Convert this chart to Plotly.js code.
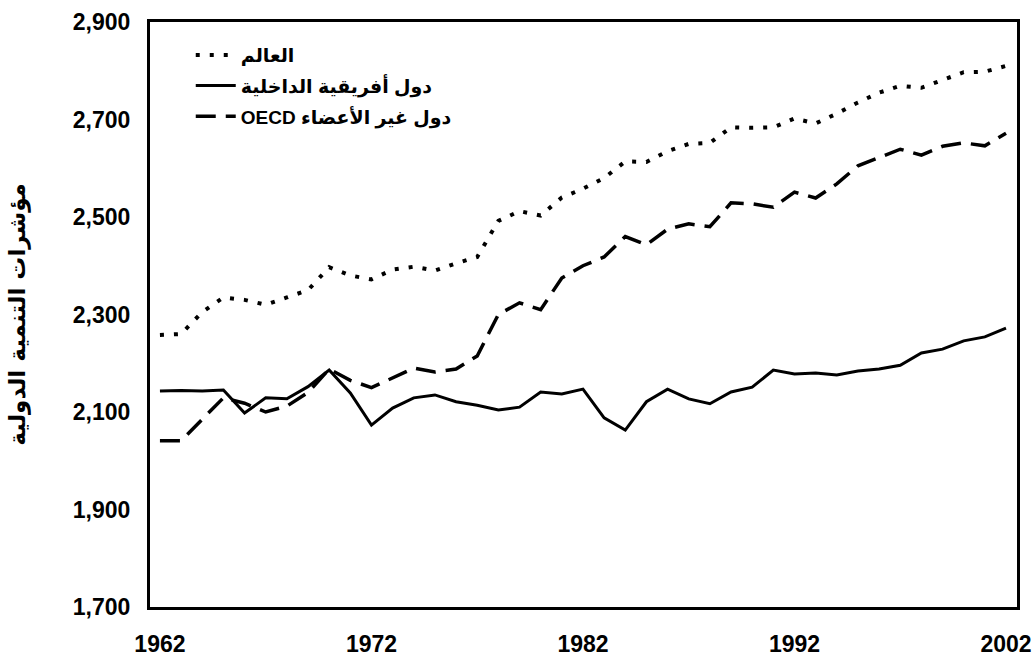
<!DOCTYPE html>
<html>
<head>
<meta charset="utf-8">
<script src="https://cdn.plot.ly/plotly-3.0.1.min.js"></script>
<style>html,body{margin:0;padding:0;background:#fff;}#chart{width:1036px;height:656px;}</style>
</head>
<body>
<div id="chart"></div>
<script>
const years = [1962,1963,1964,1965,1966,1967,1968,1969,1970,1971,1972,1973,1974,1975,1976,1977,1978,1979,1980,1981,1982,1983,1984,1985,1986,1987,1988,1989,1990,1991,1992,1993,1994,1995,1996,1997,1998,1999,2000,2001,2002];
const world = [2258,2260,2305,2335,2330,2320,2335,2350,2397,2380,2372,2392,2398,2390,2405,2418,2492,2512,2503,2540,2558,2580,2614,2613,2635,2650,2652,2684,2683,2684,2702,2692,2712,2735,2755,2769,2765,2781,2797,2798,2810];
const africaLandlocked = [2143,2144,2143,2145,2098,2129,2127,2152,2186,2139,2073,2108,2129,2135,2121,2114,2104,2110,2141,2137,2147,2088,2063,2121,2147,2127,2117,2141,2151,2186,2178,2180,2176,2184,2188,2196,2221,2229,2246,2254,2272];
const nonOECD = [2041,2041,2085,2129,2118,2100,2112,2140,2188,2165,2150,2170,2190,2182,2188,2215,2300,2324,2310,2375,2400,2418,2460,2443,2475,2486,2480,2529,2527,2520,2551,2539,2568,2605,2622,2639,2627,2645,2652,2646,2672];
const seriesNames = ["العالم", "دول أفريقية الداخلية", "OECD دول غير الأعضاء"];
const yTitle = "مؤشرات التنمية الدولية";
const xTicks = [1962,1972,1982,1992,2002];
const yTicks = [1700,1900,2100,2300,2500,2700,2900];

const FONT = "Liberation Sans, Arial, DejaVu Sans, sans-serif";
const traces = [
  {x: years, y: world, name: seriesNames[0], legendgroup: "a", mode: "lines",
   line: {color: "#000", width: 4, dash: "4px,10px"}},
  {x: years, y: africaLandlocked, name: seriesNames[1], legendgroup: "b", mode: "lines",
   line: {color: "#000", width: 3}},
  {x: years, y: nonOECD, name: seriesNames[2], legendgroup: "c", mode: "lines",
   line: {color: "#000", width: 3.5, dash: "20px,10px"}}
];
const layout = {
  width: 1036, height: 656,
  margin: {l: 150, r: 19, t: 22, b: 49},
  paper_bgcolor: "#fff", plot_bgcolor: "#fff",
  font: {family: FONT, color: "#000", size: 20},
  showlegend: true,
  legend: {x: 0.047, y: 0.976, xanchor: "left", yanchor: "top", bgcolor: "rgba(0,0,0,0)",
           font: {family: FONT, size: 19, weight: "bold", color: "#000"}, tracegroupgap: 3,
           itemwidth: 40},
  xaxis: {range: [1961.53, 2002.52], tickvals: xTicks, ticktext: xTicks.map(String),
          showgrid: false, zeroline: false, showline: true, mirror: true, linecolor: "#000", linewidth: 3,
          ticks: "", tickfont: {family: FONT, size: 23, weight: "bold"}, ticklabelstandoff: 14},
  yaxis: {range: [1700, 2900], tickvals: yTicks, ticktext: yTicks.map(v => v.toLocaleString("en-US")),
          showgrid: false, zeroline: false, showline: true, mirror: true, linecolor: "#000", linewidth: 3,
          ticks: "", tickfont: {family: FONT, size: 23, weight: "bold"}, ticklabelstandoff: 12,
          title: {text: yTitle, font: {family: "DejaVu Sans, sans-serif", size: 23, weight: "bold"}, standoff: 41}}
};
Plotly.newPlot("chart", traces, layout, {displayModeBar: false, staticPlot: true});
</script>
</body>
</html>
